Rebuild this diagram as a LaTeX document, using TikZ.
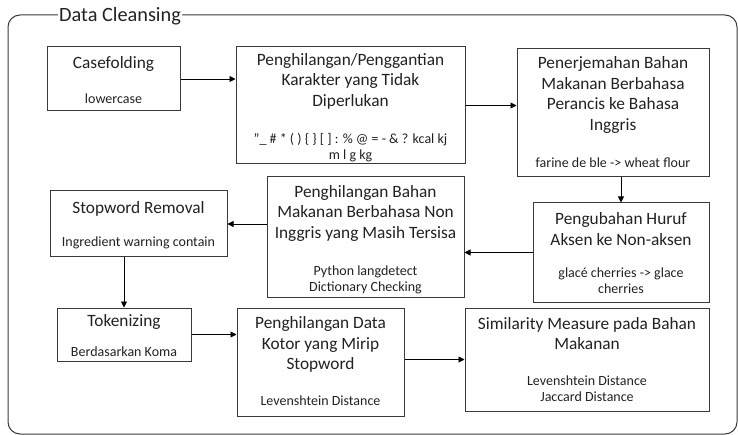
\documentclass[tikz,border=0pt]{standalone}
\usepackage{fontspec}
\setmainfont{Carlito}
\usetikzlibrary{arrows.meta}
\definecolor{linec}{HTML}{3A3A3A}
\definecolor{txtc}{HTML}{222222}
\tikzset{
  stepbox/.style={draw=linec, line width=1pt, inner sep=0pt, fill=white},
  % multi-line texts are placed by the baseline of their last line
  ttl/.style={anchor=base, align=center, inner sep=0pt, text=txtc,
    font=\fontsize{17.3}{20.5}\selectfont},
  sub/.style={anchor=base, align=center, inner sep=0pt, text=txtc,
    font=\fontsize{14}{16}\selectfont},
  arr/.style={draw=black, line width=0.9pt, -{Triangle[length=6pt,width=6pt]}},
}
\newcommand{\boxat}[5]{% name, left, top, right, bottom
  \node[stepbox, minimum width={(#4-#2)*1pt}, minimum height={(#5-#3)*1pt}]
    (#1) at ({(#2+#4)/2},{(#3+#5)/2}) {};}
\begin{document}
\begin{tikzpicture}[x=1pt,y=-1pt]
\useasboundingbox (0,0) rectangle (738,435);
\fill[white] (0,0) rectangle (738,435);

% outer frame with its caption
\draw[draw=linec, line width=1pt, rounded corners=12pt] (8,15) rectangle (737,434);
\node[fill=white, inner xsep=1pt, inner ysep=0pt, anchor=base west, text=txtc,
  font=\fontsize{20.3}{22}\selectfont] (frame-title) at (58,21.5) {Data Cleansing};

% process steps
\boxat{cf}{47}{47}{180}{111}
\node[ttl] (cf-t) at (113.5,69) {Casefolding};
\node[sub] (cf-s) at (113.5,103.5) {lowercase};

\boxat{kar}{236}{47}{465}{164}
\node[ttl] (kar-t) at (350.5,106.5) {Penghilangan/Penggantian\\Karakter yang Tidak\\Diperlukan};
\node[sub] (kar-s) at (350.5,159.5) {\symbol{34}\_ \# * ( ) \{ \} [ ] : \% @ = - \& ? kcal kj\\m l g kg};

\boxat{trans}{517}{49}{709}{177}
\node[ttl] (trans-t) at (613,130.5) {Penerjemahan Bahan\\Makanan Berbahasa\\Perancis ke Bahasa\\Inggris};
\node[sub] (trans-s) at (613,167.5) {farine de ble -> wheat flour};

\boxat{aksen}{533}{203}{709}{302}
\node[ttl] (aksen-t) at (621,245.5) {Pengubahan Huruf\\Aksen ke Non-aksen};
\node[sub] (aksen-s) at (621,293.5) {glacé cherries -> glace\\cherries};

\boxat{nonin}{267}{177}{464}{298}
\node[ttl] (nonin-t) at (365.5,238.5) {Penghilangan Bahan\\Makanan Berbahasa Non\\Inggris yang Masih Tersisa};
\node[sub] (nonin-s) at (365.5,291.5) {Python langdetect\\Dictionary Checking};

\boxat{stop}{50}{191}{227}{257}
\node[ttl] (stop-t) at (138.5,214) {Stopword Removal};
\node[sub] (stop-s) at (138.5,246.5) {Ingredient warning contain};

\boxat{token}{57}{308}{191}{361}
\node[ttl] (token-t) at (124,326) {Tokenizing};
\node[sub] (token-s) at (124,356.5) {Berdasarkan Koma};

\boxat{kotor}{237}{308}{404}{416}
\node[ttl] (kotor-t) at (320.5,369.5) {Penghilangan Data\\Kotor yang Mirip\\Stopword};
\node[sub] (kotor-s) at (320.5,405.5) {Levenshtein Distance};

\boxat{sim}{465}{308}{709}{411}
\node[ttl] (sim-t) at (587,349.5) {Similarity Measure pada Bahan\\Makanan};
\node[sub] (sim-s) at (587,401.5) {Levenshtein Distance\\Jaccard Distance};

% flow between steps
\draw[arr] (cf.east) -- (cf.east -| kar.west);
\draw[arr] (kar.east) -- (kar.east -| trans.west);
\draw[arr] (trans.south -| aksen.north) -- (aksen.north);
\draw[arr] (aksen.west) -- (aksen.west -| nonin.east);
\draw[arr] (nonin.west |- stop.east) -- (stop.east);
\draw[arr] (stop.south -| token.north) -- (token.north);
\draw[arr] (token.east) -- (token.east -| kotor.west);
\draw[arr] (kotor.east |- sim.west) -- (sim.west);
\end{tikzpicture}
\end{document}
